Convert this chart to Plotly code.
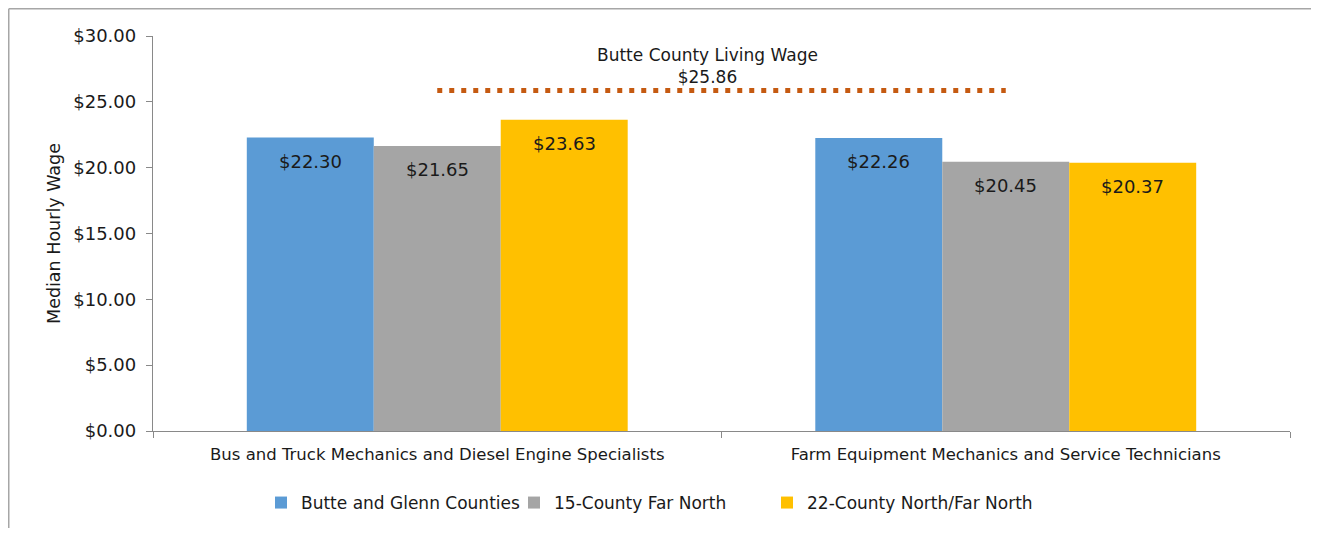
import plotly.graph_objects as go

categories = ["Bus and Truck Mechanics and Diesel Engine Specialists",
              "Farm Equipment Mechanics and Service Technicians"]
series_names = ["Butte and Glenn Counties", "15-County Far North", "22-County North/Far North"]
butte_glenn = [22.30, 22.26]
far_north_15 = [21.65, 20.45]
north_far_north_22 = [23.63, 20.37]
living_wage = 25.86
living_wage_label = "Butte County Living Wage"
y_ticks = [0, 5, 10, 15, 20, 25, 30]

series_values = [butte_glenn, far_north_15, north_far_north_22]
colors = ["#5B9BD5", "#A5A5A5", "#FFC000"]

FONT = "DejaVu Sans"
TXT = "#1a1a1a"
AX = "#898989"
BARGAP = 0.33

W, H = 1303, 520
L, R, T, B = 145, 21, 28, 97
PW, PH = W - L - R, H - T - B

fig = go.Figure()
for k, (name, vals, col) in enumerate(zip(series_names, series_values, colors)):
    fig.add_trace(go.Bar(x=categories, y=vals, name=name,
                         marker=dict(color=col, line=dict(width=0)),
                         legendwidth=260 if k == len(series_names) - 1 else None))

fig.add_trace(go.Scatter(x=categories, y=[living_wage] * len(categories), mode="lines",
                         line=dict(color="#C55A11", width=5, dash="5px,7px"),
                         showlegend=False, hoverinfo="skip"))

annotations = []
n = len(series_values)
bw = (1 - BARGAP) / n
for i, vals in enumerate(series_values):
    for j, v in enumerate(vals):
        annotations.append(dict(x=j + (i - (n - 1) / 2) * bw, y=v, xref="x", yref="y",
                                text=f"${v:.2f}", showarrow=False, yanchor="middle", yshift=-24,
                                font=dict(family=FONT, size=18, color=TXT)))
annotations.append(dict(x=0.475, y=living_wage, xref="x", yref="y",
                        text=f"{living_wage_label}<br>${living_wage:.2f}", showarrow=False,
                        yanchor="bottom", yshift=2, font=dict(family=FONT, size=17, color=TXT)))

fig.update_layout(
    width=W, height=H,
    margin=dict(l=L, r=R, t=T, b=B),
    paper_bgcolor="white", plot_bgcolor="white",
    barmode="group", bargap=BARGAP, bargroupgap=0,
    font=dict(family=FONT, size=16, color=TXT),
    annotations=annotations,
    legend=dict(orientation="h", xref="container", x=253 / W, xanchor="left",
                yref="container", y=1 - 495 / H, yanchor="middle",
                entrywidth=208, entrywidthmode="pixels",
                font=dict(family=FONT, size=17, color=TXT), traceorder="normal"),
    xaxis=dict(showline=True, linecolor=AX, linewidth=1.3, ticks="outside",
               tickson="boundaries", ticklen=6, tickcolor=AX, ticklabelstandoff=8,
               tickfont=dict(family=FONT, size=16.5, color=TXT), showgrid=False),
    yaxis=dict(range=[0, 30], tickvals=y_ticks, tickformat="$.2f", showline=True,
               linecolor=AX, linewidth=1.3, ticks="outside", ticklen=6,
               tickcolor=AX, showgrid=False, zeroline=False, ticklabelstandoff=6,
               tickfont=dict(family=FONT, size=18, color=TXT),
               title=dict(text="Median Hourly Wage", font=dict(family=FONT, size=17.5, color=TXT),
                          standoff=8)),
    shapes=[
        dict(type="line", xref="paper", yref="paper",
             x0=(0.75 - L) / PW, x1=(W - L) / PW, y0=(PH + T - 0.75) / PH, y1=(PH + T - 0.75) / PH,
             line=dict(color="#A6A6A6", width=1.5), layer="below"),
        dict(type="line", xref="paper", yref="paper",
             x0=(0.75 - L) / PW, x1=(0.75 - L) / PW, y0=-B / PH, y1=(PH + T - 0.75) / PH,
             line=dict(color="#A6A6A6", width=1.5), layer="below"),
    ],
)

fig.write_html("out.html")
